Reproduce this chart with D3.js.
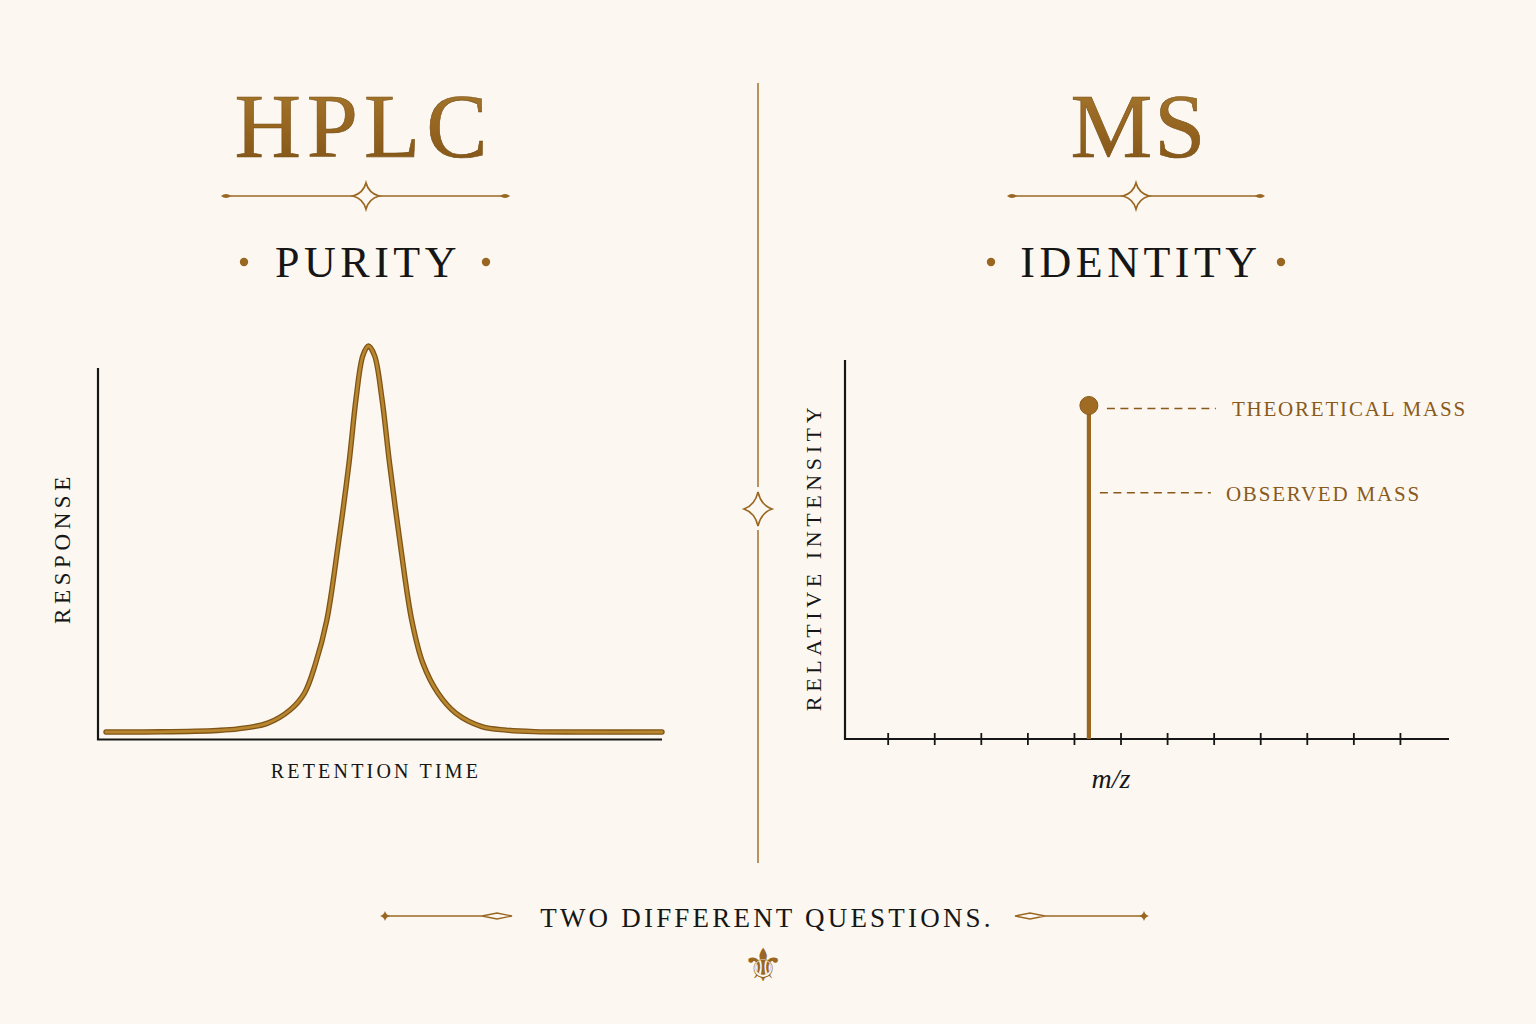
<!DOCTYPE html>
<html>
<head>
<meta charset="utf-8">
<script src="https://cdn.jsdelivr.net/npm/d3@7"></script>
<style>
  html, body { margin: 0; padding: 0; background: #fcf8f1; }
  svg { display: block; }
</style>
</head>
<body>
<div id="chart"></div>
<script>
// ---------- DATA ----------
const panelTitles = ["HPLC", "MS"];
const panelSubtitles = ["PURITY", "IDENTITY"];
const footerText = "TWO DIFFERENT QUESTIONS.";

// HPLC chromatogram (retention time in min, response in % of peak)
const hplcTime     = [0, 1.0, 2.0, 2.37, 2.91, 3.31, 3.57, 3.77, 3.97, 4.17, 4.37, 4.50, 4.62, 4.72, 4.83, 4.96, 5.10, 5.30, 5.50, 5.70, 5.97, 6.29, 6.76, 7.20, 7.70, 8.5, 10];
const hplcResponse = [0, 0.05, 0.4, 0.8, 2.3, 5.7, 10.1, 17.8, 28.9, 47.9, 69.6, 86.7, 97.5, 100, 97.5, 86.7, 69.6, 47.9, 28.9, 17.8, 10.1, 4.9, 1.4, 0.5, 0.1, 0, 0];
const hplcXLabel = "RETENTION TIME";
const hplcYLabel = "RESPONSE";

// MS spectrum
const msTicks = [1, 2, 3, 4, 5, 6, 7, 8, 9, 10, 11, 12];
const msPeakMz = 5.31;
const msLevels = [88, 65];            // theoretical, observed (relative intensity)
const msLevelLabels = ["THEORETICAL MASS", "OBSERVED MASS"];
const msXLabel = "m/z";
const msYLabel = "RELATIVE INTENSITY";

// ---------- STYLE ----------
const W = 1536, H = 1024;
const gold = "#9a6722";
const goldDark = "#8a5a1c";
const ink = "#161616";
const serif = "'Liberation Serif', 'DejaVu Serif', serif";

const svg = d3.select("#chart").append("svg")
  .attr("width", W).attr("height", H);

svg.append("rect").attr("width", W).attr("height", H).attr("fill", "#fcf8f1");

const defs = svg.append("defs");
const grad = defs.append("linearGradient").attr("id", "goldGrad")
  .attr("x1", 0).attr("y1", 0).attr("x2", 0).attr("y2", 1);
grad.append("stop").attr("offset", "0%").attr("stop-color", "#a97b31");
grad.append("stop").attr("offset", "55%").attr("stop-color", "#94631f");
grad.append("stop").attr("offset", "100%").attr("stop-color", "#7c5117");

// 4-point star path
function starPath(cx, cy, w, h) {
  const kx = w * 0.22, ky = h * 0.22;
  return `M${cx},${cy - h} Q${cx + kx},${cy - ky} ${cx + w},${cy} Q${cx + kx},${cy + ky} ${cx},${cy + h} Q${cx - kx},${cy + ky} ${cx - w},${cy} Q${cx - kx},${cy - ky} ${cx},${cy - h} Z`;
}
function leaf(x, y, len, hh, dir) {
  const x2 = x + dir * len;
  return `M${x},${y} Q${(x + x2) / 2},${y - hh} ${x2},${y} Q${(x + x2) / 2},${y + hh} ${x},${y} Z`;
}

// ---------- HEADERS ----------
const headers = [
  { cx: 362, lineL: 221, lineR: 510, starX: 366, subCx: 366, dotL: 244, dotR: 486 },
  { cx: 1137, lineL: 1007, lineR: 1265, starX: 1136, subCx: 1139, dotL: 991, dotR: 1281 }
];
headers.forEach((h, i) => {
  svg.append("text")
    .attr("x", h.cx + 2).attr("y", 157)
    .attr("text-anchor", "middle")
    .attr("font-family", serif).attr("font-size", 92)
    .attr("letter-spacing", i === 0 ? 6 : 2)
    .attr("fill", "url(#goldGrad)")
    .attr("stroke", "#7a5016").attr("stroke-width", 0.6)
    .text(panelTitles[i]);

  svg.append("line").attr("x1", h.lineL + 6).attr("x2", h.starX - 12)
    .attr("y1", 196).attr("y2", 196).attr("stroke", gold).attr("stroke-width", 1.6);
  svg.append("line").attr("x1", h.starX + 12).attr("x2", h.lineR - 6)
    .attr("y1", 196).attr("y2", 196).attr("stroke", gold).attr("stroke-width", 1.6);
  svg.append("path").attr("d", leaf(h.lineL, 196, 10, 4, 1)).attr("fill", gold);
  svg.append("path").attr("d", leaf(h.lineR, 196, 10, 4, -1)).attr("fill", gold);
  svg.append("path").attr("d", starPath(h.starX, 196, 13, 13))
    .attr("fill", "#fcf8f1").attr("stroke", gold).attr("stroke-width", 1.8);

  svg.append("text")
    .attr("x", h.subCx + 2).attr("y", 277)
    .attr("text-anchor", "middle")
    .attr("font-family", serif).attr("font-size", 44)
    .attr("letter-spacing", 4.5)
    .attr("fill", ink)
    .text(panelSubtitles[i]);
  [h.dotL, h.dotR].forEach(dx => {
    svg.append("circle").attr("cx", dx).attr("cy", 262).attr("r", 4.2).attr("fill", gold);
  });
});

// ---------- CENTER DIVIDER ----------
svg.append("line").attr("x1", 758).attr("x2", 758).attr("y1", 83).attr("y2", 487)
  .attr("stroke", gold).attr("stroke-width", 1.4);
svg.append("line").attr("x1", 758).attr("x2", 758).attr("y1", 530).attr("y2", 863)
  .attr("stroke", gold).attr("stroke-width", 1.4);
svg.append("path").attr("d", starPath(758, 509, 14, 17))
  .attr("fill", "#fcf8f1").attr("stroke", gold).attr("stroke-width", 1.6);

// ---------- HPLC CHART ----------
const hx = d3.scaleLinear().domain([0, 10]).range([106, 662]);
const hy = d3.scaleLinear().domain([0, 100]).range([732, 346]);

svg.append("path").attr("d", "M98,368 V739.5 H662")
  .attr("fill", "none").attr("stroke", ink).attr("stroke-width", 2.2);

const hLine = d3.line()
  .x((d, i) => hx(hplcTime[i]))
  .y((d, i) => hy(hplcResponse[i]))
  .curve(d3.curveCatmullRom.alpha(0.5));

svg.append("path").datum(hplcTime)
  .attr("d", hLine)
  .attr("fill", "none")
  .attr("stroke", "#7f5417").attr("stroke-width", 5.4)
  .attr("stroke-linejoin", "round").attr("stroke-linecap", "round");
svg.append("path").datum(hplcTime)
  .attr("d", hLine)
  .attr("fill", "none")
  .attr("stroke", "#b8862f").attr("stroke-width", 2.8)
  .attr("stroke-linejoin", "round").attr("stroke-linecap", "round");

svg.append("text")
  .attr("x", 376).attr("y", 778)
  .attr("text-anchor", "middle")
  .attr("font-family", serif).attr("font-size", 20)
  .attr("letter-spacing", 3.2)
  .attr("fill", ink)
  .text(hplcXLabel);

svg.append("text")
  .attr("transform", "translate(70,548) rotate(-90)")
  .attr("text-anchor", "middle")
  .attr("font-family", serif).attr("font-size", 23)
  .attr("letter-spacing", 4.6)
  .attr("fill", ink)
  .text(hplcYLabel);

// ---------- MS CHART ----------
const mx = d3.scaleLinear().domain([0, 13]).range([841.6, 1447]);
const my = d3.scaleLinear().domain([0, 100]).range([739, 360]);

svg.append("path").attr("d", "M845,360 V739 H1449")
  .attr("fill", "none").attr("stroke", ink).attr("stroke-width", 2.2);

svg.append("g").selectAll("line").data(msTicks).join("line")
  .attr("x1", d => mx(d)).attr("x2", d => mx(d))
  .attr("y1", 733).attr("y2", 745)
  .attr("stroke", ink).attr("stroke-width", 1.8);

svg.append("line")
  .attr("x1", mx(msPeakMz)).attr("x2", mx(msPeakMz))
  .attr("y1", my(0)).attr("y2", my(msLevels[0]))
  .attr("stroke", "#9a6520").attr("stroke-width", 4.2);
svg.append("circle")
  .attr("cx", mx(msPeakMz)).attr("cy", my(msLevels[0]))
  .attr("r", 9).attr("fill", "#a06b22").attr("stroke", "#8a5a1c").attr("stroke-width", 1);

const leaderStart = [18, 11];
const leaderEnd = [127, 122];
const labelOffset = [143, 137];
msLevels.forEach((v, i) => {
  const yy = my(v) + (i === 0 ? 3 : 0);
  svg.append("line")
    .attr("x1", mx(msPeakMz) + leaderStart[i]).attr("x2", mx(msPeakMz) + leaderEnd[i])
    .attr("y1", yy).attr("y2", yy)
    .attr("stroke", goldDark).attr("stroke-width", 1.5)
    .attr("stroke-dasharray", "8,5.5");
  svg.append("text")
    .attr("x", mx(msPeakMz) + labelOffset[i]).attr("y", yy + 8)
    .attr("font-family", serif).attr("font-size", 21)
    .attr("letter-spacing", 1.8)
    .attr("fill", goldDark)
    .text(msLevelLabels[i]);
});

svg.append("text")
  .attr("x", 1111).attr("y", 788)
  .attr("text-anchor", "middle")
  .attr("font-family", serif).attr("font-size", 28)
  .attr("font-style", "italic")
  .attr("fill", ink)
  .text(msXLabel);

svg.append("text")
  .attr("transform", "translate(821,557) rotate(-90)")
  .attr("text-anchor", "middle")
  .attr("font-family", serif).attr("font-size", 22)
  .attr("letter-spacing", 4.6)
  .attr("fill", ink)
  .text(msYLabel);

// ---------- FOOTER ----------
svg.append("text")
  .attr("x", 767).attr("y", 927)
  .attr("text-anchor", "middle")
  .attr("font-family", serif).attr("font-size", 27)
  .attr("letter-spacing", 3.2)
  .attr("fill", ink)
  .text(footerText);

function footOrn(xDiamond, xLensNear, xLensFar) {
  const y = 916;
  svg.append("line").attr("x1", xDiamond).attr("x2", xLensNear).attr("y1", y).attr("y2", y)
    .attr("stroke", gold).attr("stroke-width", 1.6);
  svg.append("path").attr("d", starPath(xDiamond, y, 5, 5)).attr("fill", gold);
  const mid = (xLensNear + xLensFar) / 2;
  svg.append("path")
    .attr("d", `M${xLensNear},${y} L${mid},${y - 3} L${xLensFar},${y} L${mid},${y + 3} Z`)
    .attr("fill", "#fcf8f1").attr("stroke", gold).attr("stroke-width", 1.4);
}
footOrn(385, 482, 512);
footOrn(1144, 1045, 1015);

svg.append("text")
  .attr("x", 763).attr("y", 981)
  .attr("text-anchor", "middle")
  .attr("font-family", "'DejaVu Sans', sans-serif").attr("font-size", 46)
  .attr("fill", gold)
  .text("\u269C");
</script>
</body>
</html>
